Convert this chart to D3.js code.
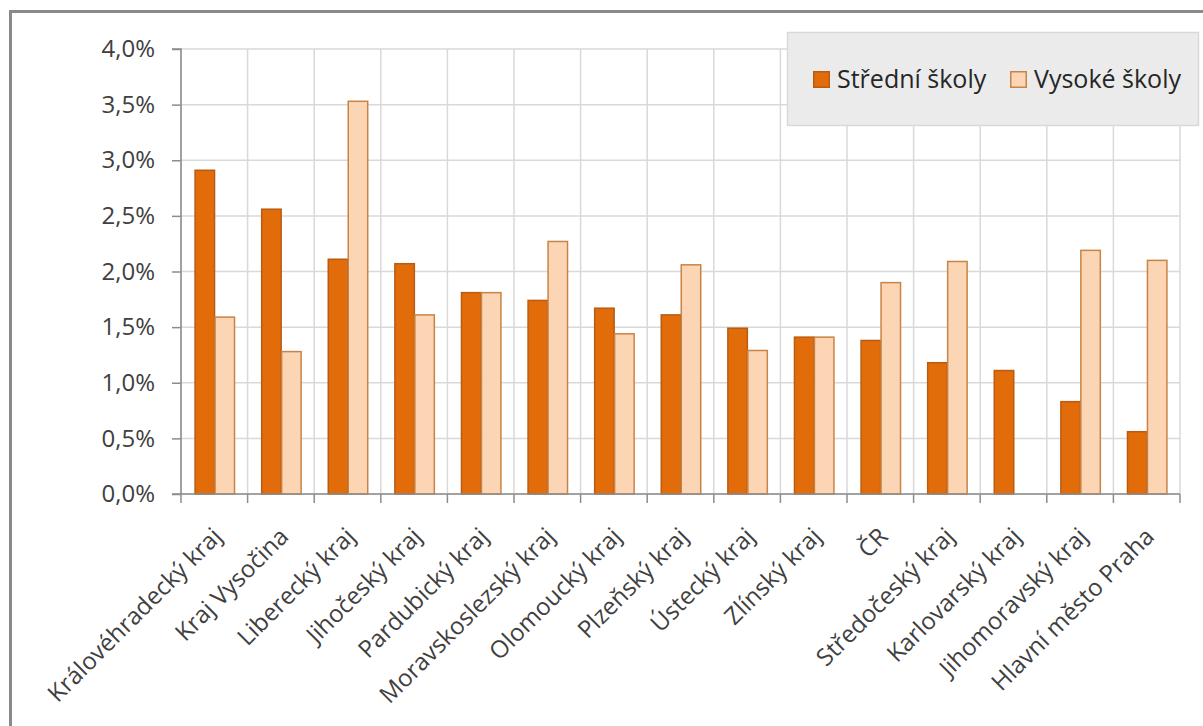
<!DOCTYPE html>
<html><head><meta charset="utf-8">
<script src="https://cdn.jsdelivr.net/npm/d3@7"></script>
<style>body{margin:0;background:#fff;} text{font-family:"Open Sans",sans-serif;}</style>
</head><body>
<svg id="c" width="1203" height="726"></svg>
<script>
const categories = ["Královéhradecký kraj","Kraj Vysočina","Liberecký kraj","Jihočeský kraj","Pardubický kraj","Moravskoslezský kraj","Olomoucký kraj","Plzeňský kraj","Ústecký kraj","Zlínský kraj","ČR","Středočeský kraj","Karlovarský kraj","Jihomoravský kraj","Hlavní město Praha"];
const seriesNames = ["Střední školy","Vysoké školy"];
const stredni = [2.91,2.56,2.11,2.07,1.81,1.74,1.67,1.61,1.49,1.41,1.38,1.18,1.11,0.83,0.56];
const vysoke  = [1.59,1.28,3.53,1.61,1.81,2.27,1.44,2.06,1.29,1.41,1.90,2.09,0,2.19,2.10];
const yTicks = [0,0.5,1,1.5,2,2.5,3,3.5,4];
const colors = ["#E36C0A","#FCD5B5"];
const strokes = ["#B85C14","#C98445"];

const svg = d3.select("#c");
const L = 181, R = 1180, T = 49, B = 494;
// outer frame
svg.append("rect").attr("x",10.5).attr("y",11.5).attr("width",1300).attr("height",800)
  .attr("fill","none").attr("stroke","#8a8a8a").attr("stroke-width",3);

const x0 = d3.scaleBand().domain(categories).range([L,R]).padding(0);
const x1 = d3.scaleBand().domain(seriesNames).range([x0.bandwidth()*0.2, x0.bandwidth()*0.8]).padding(0);
const y = d3.scaleLinear().domain([0,4]).range([B,T]);

// gridlines
const g = svg.append("g");
g.selectAll("line.h").data(yTicks).join("line")
  .attr("x1",L).attr("x2",R).attr("y1",d=>y(d)).attr("y2",d=>y(d))
  .attr("stroke","#d9d9d9").attr("stroke-width",1.5);
const bounds = categories.map(c=>x0(c)).concat([R]);
g.selectAll("line.v").data(bounds).join("line")
  .attr("x1",d=>d).attr("x2",d=>d).attr("y1",T).attr("y2",B)
  .attr("stroke","#d9d9d9").attr("stroke-width",1.5);

// bars
const data = categories.map((c,i)=>({c, vals:[stredni[i],vysoke[i]]}));
const grp = svg.append("g").selectAll("g").data(data).join("g")
  .attr("transform",d=>`translate(${x0(d.c)},0)`);
grp.selectAll("rect").data(d=>d.vals.map((v,k)=>({v,k}))).join("rect")
  .filter(d=>d.v>0)
  .attr("x",d=>x1(seriesNames[d.k])+0.75)
  .attr("width",x1.bandwidth()-0.5)
  .attr("y",d=>y(d.v))
  .attr("height",d=>B-y(d.v))
  .attr("fill",d=>colors[d.k]).attr("stroke",d=>strokes[d.k]).attr("stroke-width",1.5);

// y axis
const fmt = d=>d.toFixed(1).replace(".",",")+"%";
const ya = svg.append("g").attr("transform",`translate(${L},0)`)
  .call(d3.axisLeft(y).tickValues(yTicks).tickFormat(fmt).tickSize(9).tickPadding(17));
ya.select(".domain").attr("stroke","#8c8c8c").attr("stroke-width",1.5).attr("d",`M-9,${T}H0V${B}`);
ya.selectAll(".tick line").attr("stroke","#8c8c8c").attr("stroke-width",1.5);
ya.selectAll(".tick text").attr("fill","#404040").style("font-size","24px").attr("font-family","Open Sans");

// x axis
const xa = svg.append("g").attr("transform",`translate(0,${B})`)
  .call(d3.axisBottom(x0).tickSize(0).tickFormat(""));
xa.select(".domain").attr("stroke","#8c8c8c").attr("stroke-width",1.5).attr("d",`M${L-9},0H${R}`);
xa.selectAll(".tick").remove();
xa.selectAll("line.t").data(bounds).join("line")
  .attr("x1",d=>d).attr("x2",d=>d).attr("y1",0).attr("y2",9)
  .attr("stroke","#8c8c8c").attr("stroke-width",1.5);

svg.append("g").selectAll("text").data(categories).join("text")
  .attr("transform",d=>`translate(${x0(d)+x0.bandwidth()/2+9},${B+44}) rotate(-45)`)
  .attr("text-anchor","end").attr("fill","#404040").style("font-size","24px")
  .text(d=>d);

// legend
const lg = svg.append("g");
lg.append("rect").attr("x",787.5).attr("y",32.5).attr("width",411).attr("height",93)
  .attr("fill","#ebebeb").attr("stroke","#d9d9d9").attr("stroke-width",1.5);
const lx = [813,1010];
seriesNames.forEach((s,k)=>{
  lg.append("rect").attr("x",lx[k]+0.75).attr("y",71.75).attr("width",15.5).attr("height",15.5)
    .attr("fill",colors[k]).attr("stroke",strokes[k]).attr("stroke-width",1.5);
  lg.append("text").attr("x",lx[k]+24).attr("y",88).attr("fill","#262626")
    .style("font-size","25px").text(s);
});
</script>
</body></html>
